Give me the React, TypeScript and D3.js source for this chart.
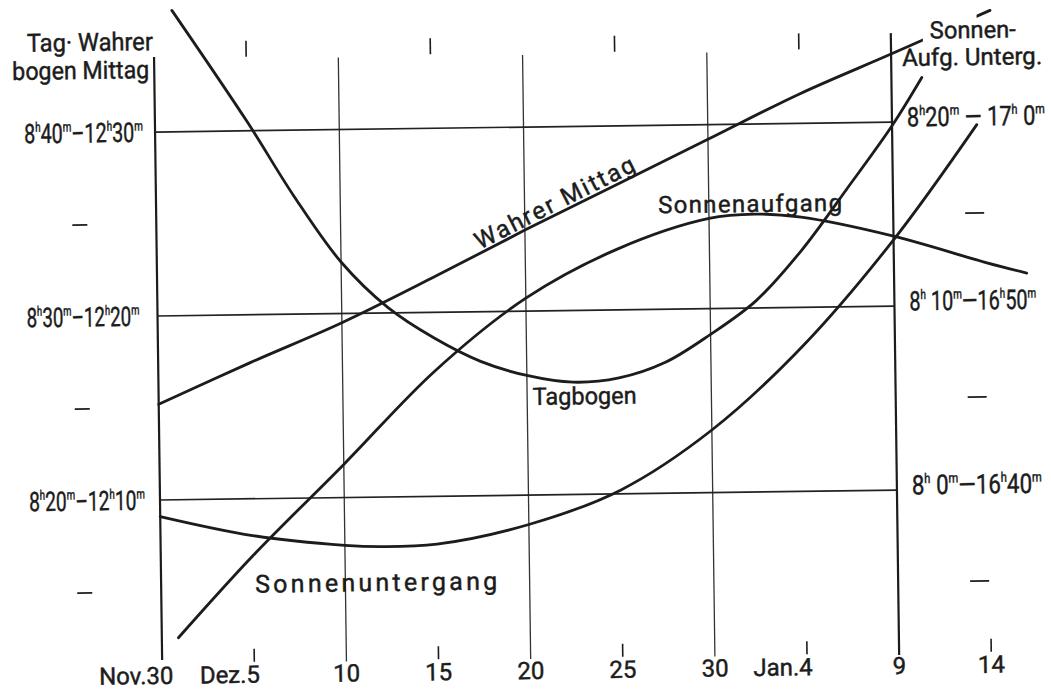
import React, { useRef, useLayoutEffect } from 'react';
import * as d3 from 'd3';

// Tage ab 30. November
const TICK_DAYS = [0, 5, 10, 15, 20, 25, 30, 35, 40, 45];
const TICK_LABELS = ['Nov.30', 'Dez.5', '10', '15', '20', '25', '30', 'Jan.4', '9', '14'];
const GRID_DAYS = [10, 20, 30];
const TOP_SHORT_DAYS = [5, 15, 25, 35];
const BOTTOM_SHORT_DAYS = [5, 15, 25, 35, 45];

// Zeiten in Minuten (h*60 + m); linke Achse auf Tagbogen bezogen
const TAG_GRID = [520, 510, 500];
const TAG_MINOR = [515, 505, 495];
const LEFT_LABELS = ['8^h40^m–12^h30^m', '8^h30^m–12^h20^m', '8^h20^m–12^h10^m'];
const RIGHT_LABELS = ['8^h20^m — 17^h 0^m', '8^h 10^m—16^h50^m', '8^h 0^m—16^h40^m'];

const TAGBOGEN_DAYS = [1.0, 5, 7.5, 10, 12.5, 15, 17.5, 20, 22.5, 25, 27.5, 30, 32.5, 35, 37.5, 40, 41.65];
const TAGBOGEN = [526.6, 520.5, 516.4, 512.8, 510.3, 508.6, 507.3, 506.5, 506.1, 506.3, 507.1, 508.6, 510.4, 513.1, 516.4, 519.8, 522.4];

const MITTAG_DAYS = [0, 5, 10, 15, 20, 25, 30, 35, 40, 45.4];
const MITTAG = [735.2, 737.4, 739.5, 741.9, 744.4, 746.8, 749.2, 751.6, 753.7, 756.0];

const AUFGANG_DAYS = [0.9, 5, 10, 15, 20, 25, 30, 32.5, 35, 40, 45, 47.2];
const AUFGANG = [472.5, 476.9, 481.8, 486.8, 490.7, 493.3, 494.9, 495.1, 494.9, 493.8, 492.3, 491.7];

const UNTERGANG_DAYS = [0, 5, 10, 12, 15, 20, 25, 30, 35, 40, 44.6];
const UNTERGANG = [999.1, 998.0, 997.4, 997.3, 997.4, 998.4, 1000.2, 1003.4, 1007.9, 1013.6, 1019.8];

const INK = '#1c1c1c';
const FONT = "Roboto, 'DejaVu Sans', sans-serif";

// Zeitangabe mit hochgestellten h/m, auf feste Breite gestreckt
function TimeText({ x, y, label, length, size = 27 }: { x: number; y: number; label: string; length: number; size?: number }) {
  const ref = useRef<SVGTextElement>(null);
  useLayoutEffect(() => {
    const el = ref.current;
    if (!el) return;
    el.removeAttribute('transform');
    const w = el.getBBox().width;
    if (w > 0) el.setAttribute('transform', `translate(${x} 0) scale(${length / w} 1) translate(${-x} 0)`);
  }, [x, length, label]);

  const parts = label.split(/(\^.)/).filter(Boolean);
  let sup = false;
  const lift = size * 0.42;
  const spans = parts.map((p, i) => {
    if (p[0] === '^') {
      const dy = sup ? 0 : -lift;
      sup = true;
      return <tspan key={i} fontSize={size * 0.5} dy={dy}>{p.slice(1)}</tspan>;
    }
    const dy = sup ? lift : 0;
    sup = false;
    return <tspan key={i} dy={dy}>{p}</tspan>;
  });
  return (
    <text ref={ref} x={x} y={y} fontSize={size} style={{ whiteSpace: 'pre' }}>
      {spans}
    </text>
  );
}

export default function App() {
  const x = d3.scaleLinear().domain([0, 40]).range([160, 897]);
  const yTag = d3.scaleLinear().domain([500, 520]).range([500, 132]);
  const yMittag = d3.scaleLinear().domain([730, 750]).range([500, 132]);
  const yAuf = d3.scaleLinear().domain([480, 500]).range([500, 132]);
  const yUnter = d3.scaleLinear().domain([1000, 1020]).range([500, 132]);

  const curve = (days: number[], vals: number[], y: d3.ScaleLinear<number, number>) =>
    d3.line<number>()
      .x((_, i) => x(days[i]))
      .y(v => y(v))
      .curve(d3.curveCatmullRom.alpha(0.5))(vals) || '';

  const top = 60;
  const bottom = 664;
  const xLeft = x(0);
  const xRight = x(40);

  // Neigung der Mittagslinie für die Beschriftung
  const ang = (Math.atan2(yMittag(MITTAG[5]) - yMittag(MITTAG[3]), x(MITTAG_DAYS[5]) - x(MITTAG_DAYS[3])) * 180) / Math.PI;

  return (
    <svg width={1051} height={691} style={{ position: 'absolute', left: 0, top: 0, background: '#fff' }}
      fontFamily={FONT} fill={INK}>
      <defs>
        <mask id="mittagGap">
          <rect x={0} y={0} width={1051} height={691} fill="#fff" />
          <rect x={929} y={0} width={54} height={110} fill="#000" />
        </mask>
      </defs>
      <g transform="rotate(-0.77 160 500)">
        {/* Raster */}
        {GRID_DAYS.map(d => (
          <line key={d} x1={x(d)} x2={x(d)} y1={top} y2={bottom} stroke="#333" strokeWidth={1.3} />
        ))}
        {TAG_GRID.map(v => (
          <line key={v} x1={xLeft} x2={xRight} y1={yTag(v)} y2={yTag(v)} stroke="#222" strokeWidth={1.7} />
        ))}
        <line x1={xLeft} x2={xLeft} y1={57} y2={660} stroke={INK} strokeWidth={2.2} />
        <line x1={xRight} x2={xRight} y1={43} y2={665} stroke={INK} strokeWidth={2.2} />
        {TOP_SHORT_DAYS.map(d => (
          <line key={d} x1={x(d)} x2={x(d)} y1={42} y2={58} stroke={INK} strokeWidth={1.6} />
        ))}
        {BOTTOM_SHORT_DAYS.map(d => (
          <line key={d} x1={x(d)} x2={x(d)} y1={650} y2={663} stroke={INK} strokeWidth={1.6} />
        ))}
        {TAG_MINOR.map(v => (
          <g key={v}>
            <line x1={76} x2={91} y1={yTag(v)} y2={yTag(v)} stroke={INK} strokeWidth={1.8} />
            <line x1={969} x2={988} y1={yTag(v)} y2={yTag(v)} stroke={INK} strokeWidth={1.8} />
          </g>
        ))}

        {/* Kurven */}
        <g fill="none" stroke={INK} strokeWidth={2.8} strokeLinecap="round">
          <path d={curve(MITTAG_DAYS, MITTAG, yMittag)} mask="url(#mittagGap)" />
          <path d={curve(TAGBOGEN_DAYS, TAGBOGEN, yTag)} />
          <path d={curve(AUFGANG_DAYS, AUFGANG, yAuf)} />
          <path d={curve(UNTERGANG_DAYS, UNTERGANG, yUnter)} />
        </g>

        <g stroke={INK} strokeWidth={0.45}>
          {/* Kopfbeschriftung */}
          <text x={33} y={50} fontSize={25} textLength={126} lengthAdjust="spacingAndGlyphs">Tag· Wahrer</text>
          <text x={18} y={78} fontSize={25} textLength={137} lengthAdjust="spacingAndGlyphs">bogen Mittag</text>
          <text x={936} y={49} fontSize={24} textLength={86} lengthAdjust="spacingAndGlyphs">Sonnen-</text>
          <text x={908} y={76} fontSize={24} textLength={140} lengthAdjust="spacingAndGlyphs">Aufg. Unterg.</text>

          {/* Zeitmarken */}
          {TAG_GRID.map((v, i) => (
            <TimeText key={'l' + v} x={29} y={yTag(v) + 9.5} label={LEFT_LABELS[i]} length={[119, 113, 116][i]} />
          ))}
          {TAG_GRID.map((v, i) => (
            <TimeText key={'r' + v} x={912} y={yTag(v) + 4.5} label={RIGHT_LABELS[i]} length={[138, 127, 130][i]} />
          ))}

          {/* Datumsachse */}
          {TICK_DAYS.map((d, i) => {
            const lab = TICK_LABELS[i];
            const dot = lab.indexOf('.');
            if (dot >= 0) {
              const digits = lab.length - dot - 1;
              return (
                <text key={d} x={x(d) + digits * 5.5} y={684} fontSize={24} textAnchor="end">{lab}</text>
              );
            }
            return (
              <text key={d} x={x(d)} y={684} fontSize={24} textAnchor="middle">{lab}</text>
            );
          })}

          {/* Kurvennamen */}
          <text transform={`translate(483,254) rotate(${ang})`} fontSize={24} textLength={176} lengthAdjust="spacing">Wahrer Mittag</text>
          <text x={662} y={220} fontSize={24} textLength={184} lengthAdjust="spacing">Sonnenaufgang</text>
          <text x={534} y={410} fontSize={24} textLength={104} lengthAdjust="spacingAndGlyphs">Tagbogen</text>
          <text x={254} y={594} fontSize={25} textLength={242} lengthAdjust="spacing">Sonnenuntergang</text>
        </g>
      </g>
    </svg>
  );
}
